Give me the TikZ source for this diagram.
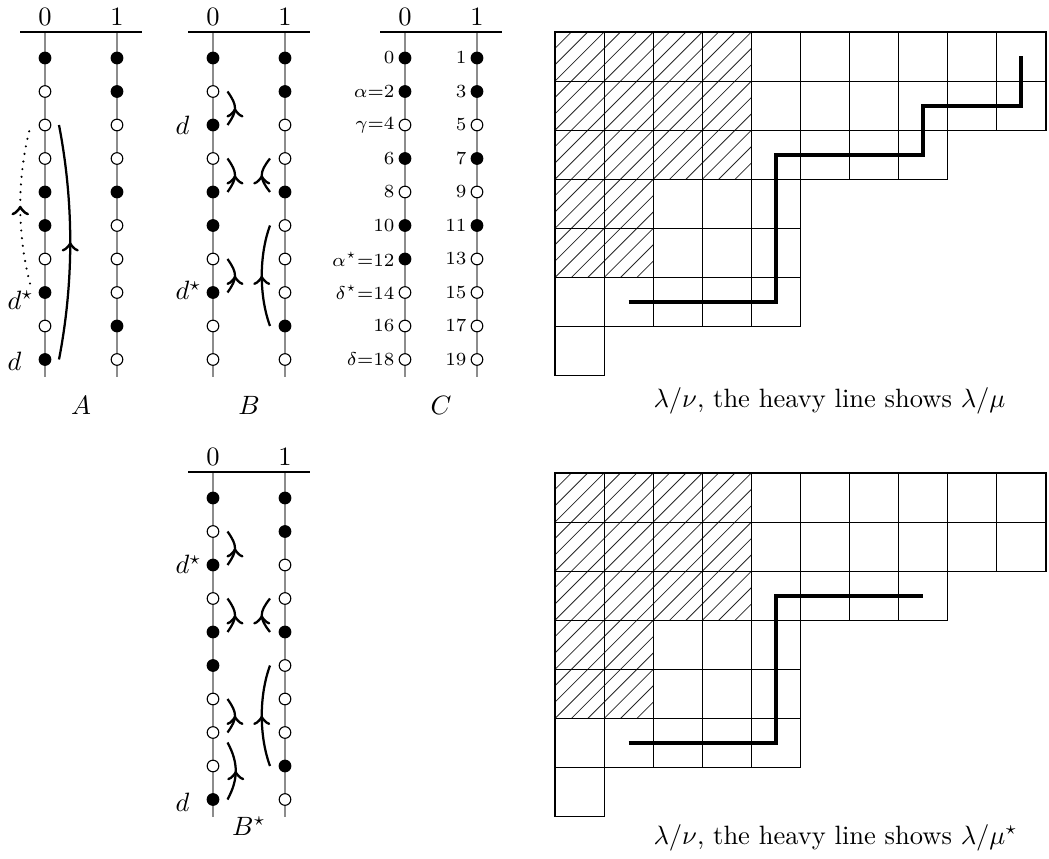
\documentclass[tikz,border=0pt]{standalone}
\usetikzlibrary{decorations.markings,calc}
\begin{document}
\begin{tikzpicture}[x=0.3774pt,y=-0.3774pt,
  rod/.style={draw=black!45,line width=0.75pt},
  headline/.style={draw=black,line width=0.75pt},
  hlabel/.style={inner sep=0pt},
  bead0/.style={circle,draw=black,fill=white,line width=0.4pt,minimum size=4.4pt,inner sep=0pt},
  bead1/.style={circle,draw=black,fill=black,line width=0.4pt,minimum size=4.4pt,inner sep=0pt},
  clabel/.style={inner sep=0pt,anchor=east},
  dlabel/.style={inner sep=0pt,anchor=west},
  midarrow/.style={line width=0.85pt,postaction={decorate},
     decoration={markings,mark=at position 0.5 with {\arrow[scale=1.3]{>}}}},
  dottedarrow/.style={midarrow,line width=0.9pt,line cap=round,dash pattern=on 0pt off 2.9pt},
  cell/.style={draw=black,line width=0.4pt},
  hatch/.style={draw=black!85,line width=0.3pt},
  heavy/.style={draw=black,line width=1.55pt}]
\useasboundingbox (0,0) rectangle (1049,859);

% abacus macro: #1 name, #2 x of runner 0, #3 y of header line, #4 runner 0, #5 runner 1
\newcommand\myabacus[5]{%
  \draw[rod] (#2,#3) -- (#2,#3+345);
  \draw[rod] (#2+72,#3) -- (#2+72,#3+345);
  \draw[headline] (#2-25,#3) -- (#2+97,#3);
  \node[hlabel] (#1h0) at (#2,#3-15.5) {$0$};
  \node[hlabel] (#1h1) at (#2+72,#3-15.5) {$1$};
  \foreach \b [count=\i] in {#4} {\node[bead\b] (#1a\i) at (#2,{#3+26+33.5*(\i-1)}) {};}
  \foreach \b [count=\i] in {#5} {\node[bead\b] (#1b\i) at (#2+72,{#3+26+33.5*(\i-1)}) {};}
}

% ---------- A ----------
\myabacus{A}{45}{32}{1,0,0,0,1,1,0,1,0,1}{1,1,0,0,1,0,0,0,1,0}
\node[dlabel] (Ad) at (7,361.5) {$d$};
\node[dlabel] (Ads) at (7,300) {$d^\star$};
\draw[midarrow] ($(Aa10)+(14,0)$) .. controls +(15,-78) and +(15,78) .. ($(Aa3)+(14,0)$);
\draw[dottedarrow] ($(Aa8)+(-15,-9)$) .. controls +(-13,-50) and +(-13,50) .. ($(Aa3)+(-15,3)$);
\node (Alab) at (81,415) [anchor=base] {$A$};

% ---------- B ----------
\myabacus{B}{213}{32}{1,0,1,0,1,1,0,1,0,0}{1,1,0,0,1,0,0,0,1,0}
\node[dlabel] (Bd) at (175,125.5) {$d$};
\node[dlabel] (Bds) at (175,290.5) {$d^\star$};
\draw[midarrow] ($(Ba3)+(14.5,0)$) .. controls +(10,-14) and +(10,14) .. ($(Ba2)+(14.5,0)$);
\draw[midarrow] ($(Ba5)+(14.5,0)$) .. controls +(10,-14) and +(10,14) .. ($(Ba4)+(14.5,0)$);
\draw[midarrow] ($(Ba8)+(14.5,0)$) .. controls +(10,-14) and +(10,14) .. ($(Ba7)+(14.5,0)$);
\draw[midarrow] ($(Bb5)+(-15,0)$) .. controls +(-11,-14) and +(-11,14) .. ($(Bb4)+(-15,0)$);
\draw[midarrow] ($(Bb9)+(-15,0)$) .. controls +(-11,-30) and +(-11,30) .. ($(Bb6)+(-15,0)$);
\node (Blab) at (249,415) [anchor=base] {$B$};

% ---------- C ----------
\myabacus{C}{405}{32}{1,1,0,1,0,1,1,0,0,0}{1,1,0,1,0,1,0,0,0,0}
\foreach \t [count=\i] in {0,\alpha=2,\gamma=4,6,8,10,\alpha^\star=12,\delta^\star=14,16,\delta=18}
  {\node[clabel] (Cla\i) at ($(Ca\i)+(-10,0)$) {$\scriptstyle \t$};}
\foreach \t [count=\i] in {1,3,5,7,9,11,13,15,17,19}
  {\node[clabel] (Clb\i) at ($(Cb\i)+(-10,0)$) {$\scriptstyle \t$};}
\node (Clab) at (441,415) [anchor=base] {$C$};

% ---------- B* ----------
\myabacus{S}{213}{472}{1,0,1,0,1,1,0,0,0,1}{1,1,0,0,1,0,0,0,1,0}
\node[dlabel] (Sds) at (175,564.5) {$d^\star$};
\node[dlabel] (Sd) at (175,802.5) {$d$};
\draw[midarrow] ($(Sa3)+(14.5,0)$) .. controls +(10,-14) and +(10,14) .. ($(Sa2)+(14.5,0)$);
\draw[midarrow] ($(Sa5)+(14.5,0)$) .. controls +(10,-14) and +(10,14) .. ($(Sa4)+(14.5,0)$);
\draw[midarrow] ($(Sa8)+(14.5,0)$) .. controls +(10,-14) and +(10,14) .. ($(Sa7)+(14.5,0)$);
\draw[midarrow] ($(Sa10)+(14.5,0)$) .. controls +(11,-20) and +(11,20) .. ($(Sa8)+(14.5,10)$);
\draw[midarrow] ($(Sb5)+(-15,0)$) .. controls +(-11,-14) and +(-11,14) .. ($(Sb4)+(-15,0)$);
\draw[midarrow] ($(Sb9)+(-15,0)$) .. controls +(-11,-30) and +(-11,30) .. ($(Sb6)+(-15,0)$);
\node (Slab) at (249,835) [anchor=base] {$B^\star$};

% ---------- Young diagrams ----------
\newcommand\myyoung[1]{%
  \begin{scope}[shift={(0,#1)}]
    \begin{scope}
      \clip (555,32) -- (751.4,32) -- (751.4,179.3) -- (653.2,179.3) -- (653.2,277.5) -- (555,277.5) -- cycle;
      \foreach \k in {0,...,21} {\draw[hatch] ({587+\k*16.367-20},20) -- ({587+\k*16.367-300},300);}
    \end{scope}
    \foreach \L [count=\r] in {10,10,8,5,5,5,1} {
      \foreach \c in {1,...,\L} {\draw[cell] ({555+(\c-1)*49.1},{32+(\r-1)*49.1}) rectangle +(49.1,49.1);}
    }
  \end{scope}
}
\myyoung{0}
\myyoung{441}
\draw[heavy] (628.6,302) -- (775.9,302) -- (775.9,154.8) -- (923.2,154.8) -- (923.2,105.6) -- (1021.4,105.6) -- (1021.4,56.5);
\draw[heavy] (628.6,743) -- (775.9,743) -- (775.9,595.8) -- (923.2,595.8);
\node (cap1) at (653,408) [anchor=base west,inner sep=0pt] {$\lambda/\nu$, the heavy line shows $\lambda/\mu$};
\node (cap2) at (653,844) [anchor=base west,inner sep=0pt] {$\lambda/\nu$, the heavy line shows $\lambda/\mu^\star$};
\end{tikzpicture}
\end{document}
